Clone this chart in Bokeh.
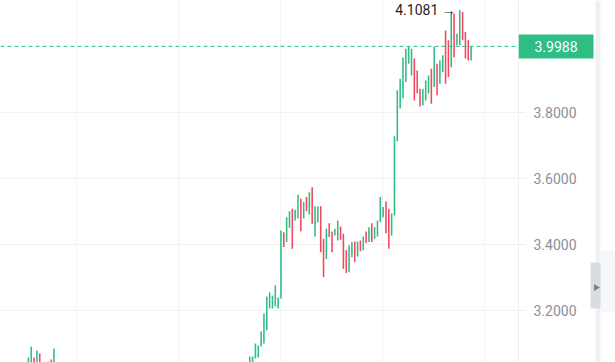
import numpy as np
from bokeh.plotting import figure
from bokeh.models import (Range1d, FixedTicker, Span, Label, ColumnDataSource,
                          PrintfTickFormatter)
from bokeh.core.properties import value
from bokeh.layouts import row
from bokeh.embed import file_html
from bokeh.resources import INLINE

# ---------------- data ----------------
# candle time index (bars 5-6 and 10-77 lie below the visible price range)
bar_index = [0, 1, 2, 3, 4, 7, 8, 9] + list(range(78, 157))

open_price = [
    3.035, 3.040, 3.058, 3.045, 3.070, 3.030, 3.052, 3.035,
    3.030, 3.035, 3.055, 3.058, 3.091, 3.100, 3.140, 3.206, 3.206, 3.212,
    3.206, 3.236, 3.437, 3.407, 3.450, 3.508, 3.472, 3.478, 3.538, 3.479,
    3.543, 3.490, 3.573, 3.424, 3.467, 3.515, 3.417, 3.356, 3.464, 3.439,
    3.427, 3.412, 3.454, 3.432, 3.382, 3.316, 3.361, 3.409, 3.363, 3.412,
    3.382, 3.439, 3.407, 3.464, 3.417, 3.424, 3.467, 3.482, 3.530, 3.508,
    3.427, 3.487, 3.712, 3.811, 3.842, 3.891, 3.946, 3.911, 3.962, 3.926,
    3.871, 3.821, 3.835, 3.856, 3.931, 3.876, 3.946, 3.886, 3.921, 4.047,
    4.017, 3.936, 4.098, 4.002, 4.002, 4.103, 4.042, 4.017, 3.956,
]
close_price = [
    3.058, 3.091, 3.035, 3.079, 3.038, 3.046, 3.030, 3.085,
    3.061, 3.061, 3.100, 3.094, 3.137, 3.191, 3.242, 3.255, 3.245, 3.276,
    3.239, 3.442, 3.392, 3.482, 3.500, 3.387, 3.505, 3.550, 3.440, 3.528,
    3.500, 3.558, 3.462, 3.515, 3.515, 3.376, 3.301, 3.447, 3.422, 3.376,
    3.447, 3.472, 3.414, 3.326, 3.313, 3.397, 3.407, 3.346, 3.409, 3.379,
    3.424, 3.404, 3.452, 3.407, 3.452, 3.472, 3.543, 3.513, 3.434, 3.387,
    3.493, 3.727, 3.866, 3.901, 3.965, 3.992, 3.997, 3.992, 3.835, 3.857,
    3.817, 3.871, 3.896, 3.911, 3.825, 3.997, 3.851, 3.956, 3.972, 3.886,
    3.906, 4.098, 3.966, 4.037, 4.1081, 4.017, 3.962, 3.956, 3.9988,
]
price_ticks = [3.2, 3.4, 3.6, 3.8]
time_grid = [16.95, 52.9, 88.85, 124.8, 160.7]

UP = "#2ebd85"
DOWN = "#f6465d"

top = [max(o, c) for o, c in zip(open_price, close_price)]
bottom = [min(o, c) for o, c in zip(open_price, close_price)]
colors = [UP if c >= o else DOWN for o, c in zip(open_price, close_price)]
src = ColumnDataSource(dict(x=bar_index, top=top, bottom=bottom, color=colors))

yr = Range1d(3.0427, 4.1376)
p = figure(width=590, height=362,
           x_range=Range1d(-9.83, 172.7), y_range=yr,
           x_axis_location=None, y_axis_location="right",
           min_border_left=0, min_border_right=72, min_border_top=0, min_border_bottom=0,
           output_backend="svg", toolbar_location=None)
p.outline_line_color = None
p.background_fill_color = "white"
p.border_fill_color = "white"

p.ygrid.grid_line_color = "#f3f3f3"
p.xgrid.ticker = FixedTicker(ticks=time_grid)
p.xgrid.grid_line_color = "#f3f3f3"

ax = p.yaxis[0]
ax.ticker = FixedTicker(ticks=price_ticks)
ax.formatter = PrintfTickFormatter(format="%.4f")
ax.axis_line_color = "#efefef"
ax.major_tick_line_color = "#efefef"
ax.major_tick_in = 0
ax.major_tick_out = 7
ax.minor_tick_line_color = None
ax.major_label_standoff = 8
ax.major_label_text_font = "Roboto"
ax.major_label_text_font_size = "14px"
ax.major_label_text_color = "#8a909b"

p.vbar(x="x", width=0.55, top="top", bottom="bottom", fill_color="color",
       line_color=None, source=src)

last = close_price[-1]
p.add_layout(Span(location=last, dimension="width", line_color=UP, line_width=1,
                  line_dash="4 3"))

imax = int(np.argmax(top))
p.add_layout(Label(x=bar_index[imax], y=top[imax], x_offset=-4, text=f"{top[imax]:.4f} \u2192",
                   text_align="right", text_baseline="middle", text_font="Roboto",
                   text_font_size="14px", text_color="#1e2329"))

# transparent overlay over the price-axis area: last-price tag + side strip with handle
b = figure(width=97, height=362, x_range=Range1d(0, 97), y_range=yr,
           min_border=0, output_backend="svg", toolbar_location=None,
           x_axis_location=None, y_axis_location=None, margin=(0, 0, 0, -72))
b.extra_y_ranges = {"px": Range1d(362, 0)}
b.outline_line_color = None
b.background_fill_alpha = 0
b.border_fill_alpha = 0
b.grid.visible = False

b.quad(left=[77], right=[82], top=[0], bottom=[362], fill_color="#eff1f4",
       line_color=None, y_range_name="px")
b.quad(left=[82], right=[97], top=[250], bottom=[312], fill_color="#f6f7f9",
       line_color=None, y_range_name="px")
b.quad(left=[72], right=[82], top=[262], bottom=[308], fill_color="#d9dde2",
       line_color=None, y_range_name="px")
b.scatter(x=[77.5], y=[287], marker="triangle", angle=-np.pi / 2, size=7,
          fill_color="#7b818c", line_color=None, y_range_name="px")

b.rect(x=[37.5], y=[last], width=75, height=24, width_units="screen", height_units="screen",
       fill_color=UP, line_color=None)
b.text(x=[37.5], y=[last], text=[f"{last:.4f}"], text_align="center", text_baseline="middle",
       text_font=value("Roboto"), text_font_size="14px", text_color="white")

layout = row(p, b)
open("out.html", "w").write(file_html(layout, INLINE))
